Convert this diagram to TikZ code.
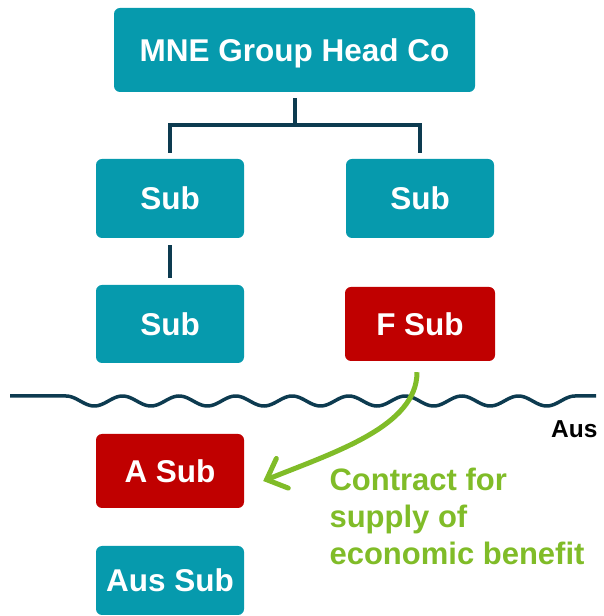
\documentclass[tikz,border=0pt]{standalone}
\usepackage{fontspec}
\setmainfont{Liberation Sans}
\usetikzlibrary{arrows.meta}

\definecolor{boxteal}{HTML}{069AAD}
\definecolor{boxred}{HTML}{C00000}
\definecolor{linkblue}{HTML}{0D3B50}
\definecolor{benefitgreen}{HTML}{80BC28}

\begin{document}
\begin{tikzpicture}[x=1pt, y=1pt,
    tealbox/.style={fill=boxteal, rounded corners=6pt, text=white,
      font=\fontsize{31.5}{37}\selectfont\bfseries, inner sep=0pt, text depth=0pt},
    redbox/.style={tealbox, fill=boxred},
    link/.style={draw=linkblue, line width=4pt},
    benefit/.style={draw=benefitgreen, line width=5pt,
      -{Straight Barb[length=17pt, width=32pt, line cap=round]}}]
  \useasboundingbox (0, 0) rectangle (604, 616);

  % group structure
  \node[tealbox, minimum width=361pt, minimum height=84pt] (head) at (294.5, 566) {MNE Group Head Co};
  \node[tealbox, minimum width=148pt, minimum height=79pt] (subA) at (170, 417.5) {Sub};
  \node[tealbox, minimum width=148pt, minimum height=79pt] (subB) at (420, 417.5) {Sub};
  \node[tealbox, minimum width=148pt, minimum height=78pt] (subC) at (170, 292) {Sub};
  \node[redbox, minimum width=150pt, minimum height=74pt] (fsub) at (420, 292) {F Sub};

  % ownership lines
  \coordinate (fork) at (295, 491);
  \draw[link] ([yshift=-6pt]head.south -| fork) -- (fork);
  \draw[link] ([yshift=6pt]subA.north) |- (fork) -| ([yshift=6pt]subB.north);
  \draw[link] ([yshift=-7pt]subA.south) -- ([yshift=7pt]subC.north);

  % border
  \draw[linkblue, line width=3.5pt]
    (10, 220) -- (66, 220)
    -- plot[domain=0:509, samples=240] ({66+\x}, {215 + 5*cos(6.3654*\x)})
    -- (596, 220);
  \node[anchor=base east, font=\fontsize{24.5}{28}\selectfont\bfseries] (aus) at (601, 178) {Aus};

  % australian side
  \node[redbox, minimum width=148pt, minimum height=74pt] (asub) at (170, 145) {A Sub};
  \node[tealbox, minimum width=148pt, minimum height=69pt] (aussub) at (170, 35.5) {Aus Sub};

  \draw[benefit] ([xshift=-3pt, yshift=-11pt]fsub.south)
    .. controls +(0, -54) and +(72, 29) .. ([xshift=19pt, yshift=-10pt]asub.east);
  \node[anchor=base west, align=left, text=benefitgreen,
    font=\fontsize{31}{37}\selectfont\bfseries] (contract) at (326, 51)
    {Contract for\\supply of\\economic benefit};
\end{tikzpicture}
\end{document}
